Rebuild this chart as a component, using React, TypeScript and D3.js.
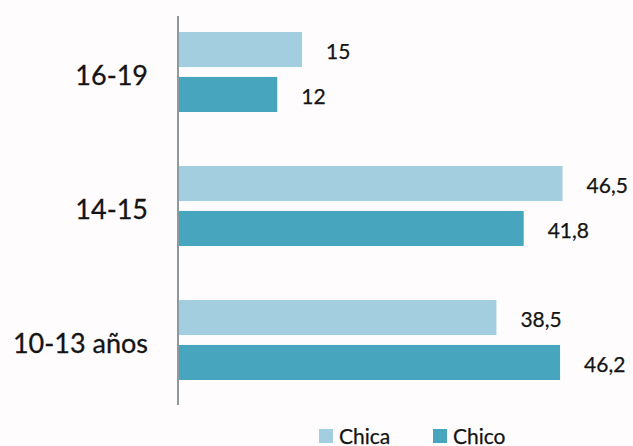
import React from "react";
import * as d3 from "d3";

const categories = ["16-19", "14-15", "10-13 años"];
const seriesNames = ["Chica", "Chico"];
const chicaValues = [15, 46.5, 38.5];
const chicoValues = [12, 41.8, 46.2];
const valueLabels = [["15", "12"], ["46,5", "41,8"], ["38,5", "46,2"]];
const colors = ["#a2cee0", "#47a6bd"];

const W = 633;
const H = 446;
const FONT = "Lato, 'Open Sans', sans-serif";
const TXT = "#141414";

export default function App() {
  const x = d3.scaleLinear().domain([0, 50]).range([178, 591.5]);
  const y = d3.scaleBand<string>().domain(categories).range([5, 407]).padding(0);
  const inner = d3.scaleBand<string>().domain(seriesNames).range([27, 107]).paddingInner(0.22);
  const series = [chicaValues, chicoValues];

  return (
    <div style={{ position: "fixed", left: 0, top: 0 }}>
      <svg width={W} height={H} style={{ display: "block" }}>
        <rect x={0} y={0} width={W} height={H} fill="#fefcfc" />
        {categories.map((c, i) => {
          const g0 = y(c)!;
          const center = g0 + y.bandwidth() / 2;
          return (
            <g key={c}>
              <text x={148} y={center + 12.5} textAnchor="end" fontFamily={FONT} fontSize={27} fill={TXT} stroke={TXT} strokeWidth={0.3}>
                {c}
              </text>
              {seriesNames.map((s, j) => {
                const v = series[j][i];
                const by = g0 + inner(s)!;
                const bh = inner.bandwidth();
                return (
                  <g key={s}>
                    <rect x={x(0)} y={by} width={x(v) - x(0)} height={bh} fill={colors[j]} />
                    <text x={x(v) + 24} y={by + bh / 2 + 9.5} fontFamily={FONT} fontSize={21} fill={TXT} stroke={TXT} strokeWidth={0.25}>
                      {valueLabels[i][j]}
                    </text>
                  </g>
                );
              })}
            </g>
          );
        })}
        <line x1={x(0)} x2={x(0)} y1={16} y2={405} stroke="#8c9a9e" strokeWidth={2} />
        {seriesNames.map((s, j) => {
          const lx = [319, 433][j];
          return (
            <g key={s}>
              <rect x={lx} y={429} width={14} height={14} fill={colors[j]} />
              <text x={lx + 20} y={444} fontFamily={FONT} fontSize={21} fill={TXT} stroke={TXT} strokeWidth={0.25}>
                {s}
              </text>
            </g>
          );
        })}
      </svg>
    </div>
  );
}
